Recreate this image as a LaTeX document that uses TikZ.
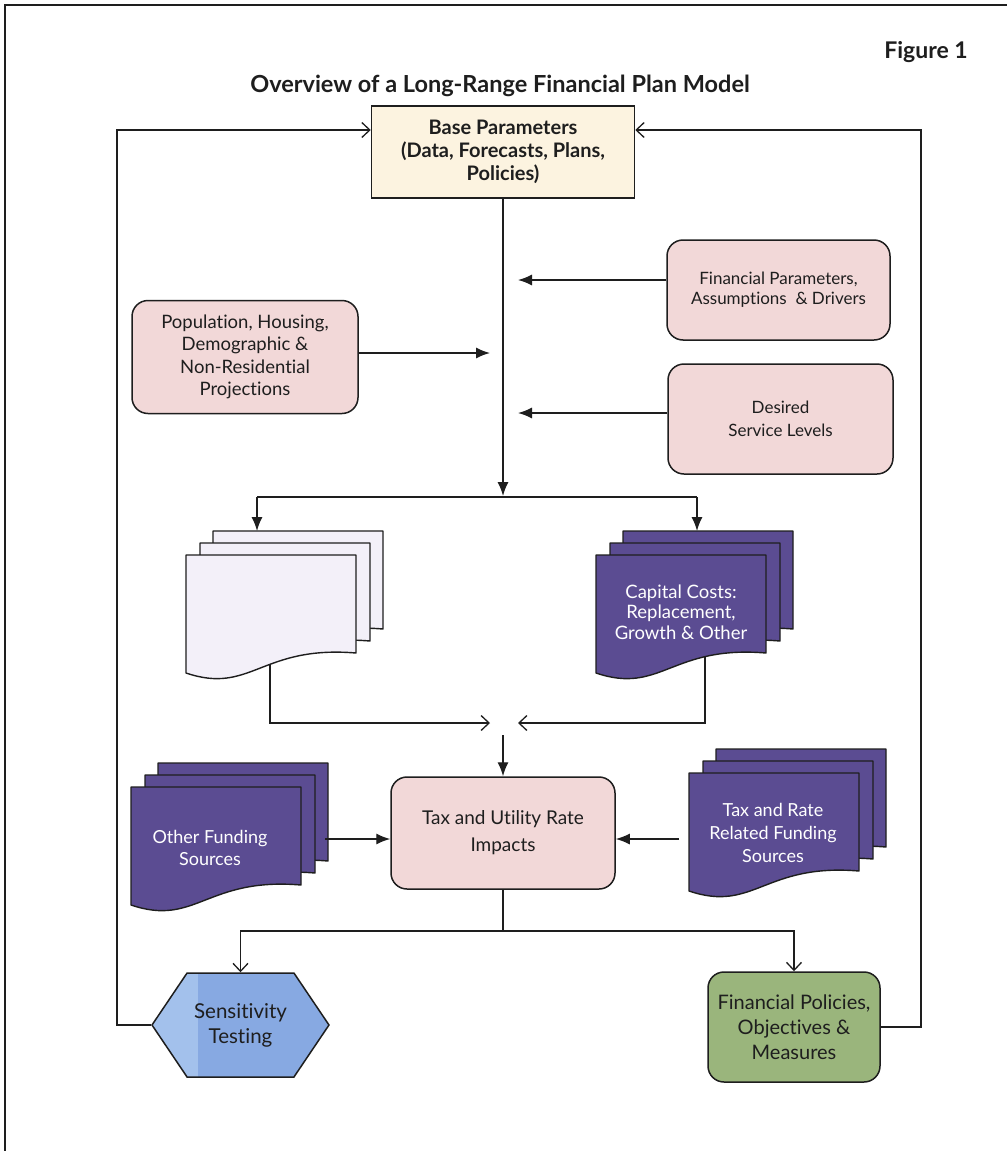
\documentclass[tikz,border=0pt]{standalone}
\usepackage{fontspec}
\setmainfont{Lato}[Ligatures={NoCommon}]
\usetikzlibrary{arrows.meta,shapes.symbols}
\definecolor{pinkbox}{HTML}{F2D8D8}
\definecolor{creambox}{HTML}{FCF3E0}
\definecolor{purpledoc}{HTML}{5B4C92}
\definecolor{lilacdoc}{HTML}{F3F0F9}
\definecolor{hexblue}{HTML}{87A9E2}
\definecolor{hexlight}{HTML}{A3C1EC}
\definecolor{greenbox}{HTML}{9AB57C}
\definecolor{ink}{HTML}{1E1E1E}
\tikzset{
  x=1pt, y=-1pt,
  pinkrnd/.style={draw=ink, fill=pinkbox, rounded corners=16pt, line width=1.5pt, align=center, text=ink, inner sep=0pt},
  docline/.style={draw=ink, line width=1.4pt, line join=round},
  doctext/.style={text=white, align=center, inner sep=0pt},
  flowarrow/.style={draw=ink, line width=1.4pt, -{Latex[length=14pt,width=11pt]}},
  barb/.style={draw=ink, line width=1.3pt, -{Straight Barb[length=8pt,width=15pt]}},
  plainline/.style={draw=ink, line width=1.4pt},
}
\newcommand\docat[3]{\begin{scope}[shift={(#1,#2)}]\filldraw[docline,#3] (0,0) -- (170,0) -- (170,98) .. controls (75,90) and (65,140) .. (0,118) -- cycle;\end{scope}}
\newcommand\docstack[3]{\docat{#1+27}{#2-24}{#3}\docat{#1+14}{#2-12}{#3}\docat{#1}{#2}{#3}}
\begin{document}
\begin{tikzpicture}
\useasboundingbox (0,0) rectangle (1007,1151);
\fill[white] (0,0) rectangle (1007,1151);
% frame
\draw[line width=1.8pt, ink] (5,1151) -- (5,5) -- (1007,5);

% titles
\node[font=\fontsize{23}{27}\selectfont\bfseries, text=ink] (fig) at (926,52) {Figure 1};
\node[font=\fontsize{23.5}{27}\selectfont\bfseries, text=ink] (title) at (500,86) {Overview of a Long-Range Financial Plan Model};

% boxes
\node[draw=ink, fill=creambox, line width=1.5pt, minimum width=263pt, minimum height=92pt, align=center, inner sep=0pt,
      font=\fontsize{20}{23}\selectfont\bfseries, text=ink] (base) at (503,152) {Base Parameters\\(Data, Forecasts, Plans,\\Policies)};
\node[pinkrnd, minimum width=223pt, minimum height=100pt, font=\fontsize{17}{20}\selectfont] (fin) at (778.5,290) {Financial Parameters,\\Assumptions \ \& Drivers};
\node[pinkrnd, minimum width=226pt, minimum height=113pt, font=\fontsize{18.5}{22.5}\selectfont] (pop) at (245,357) {Population, Housing,\\Demographic \&\\Non-Residential\\Projections};
\node[pinkrnd, minimum width=225pt, minimum height=110pt, font=\fontsize{17}{23}\selectfont] (des) at (780.5,419) {Desired\\Service Levels};

% document stacks
\docstack{186}{555}{fill=lilacdoc}
\coordinate (ops) at (271,604);
\docstack{596}{555}{fill=purpledoc}
\node[doctext, font=\fontsize{18.5}{20.5}\selectfont] (cap) at (681,612) {Capital Costs:\\Replacement,\\Growth \& Other};
\docstack{131}{787}{fill=purpledoc}
\node[doctext, font=\fontsize{18}{21.5}\selectfont] (ofs) at (210,848) {Other Funding\\Sources};
\docstack{689}{773}{fill=purpledoc}
\node[doctext, font=\fontsize{18}{23}\selectfont] (trf) at (773,833) {Tax and Rate\\Related Funding\\Sources};

\node[pinkrnd, minimum width=224pt, minimum height=112pt, font=\fontsize{19}{27}\selectfont] (tax) at (503,833) {Tax and Utility Rate\\Impacts};

\node[draw=ink, fill=hexblue, line width=1.5pt, shape=signal, signal to=west and east, signal pointer angle=112,
      minimum width=177pt, minimum height=104pt, inner sep=0pt, align=center, text=ink,
      font=\fontsize{20.5}{25}\selectfont,
      path picture={\fill[hexlight] (path picture bounding box.south west) rectangle ([xshift=46pt]path picture bounding box.north west);}] (hex) at (240.5,1025) {Sensitivity\\Testing};
\node[draw=ink, fill=greenbox, rounded corners=16pt, line width=1.5pt, minimum width=172pt, minimum height=110pt, inner sep=0pt,
      align=center, text=ink, font=\fontsize{20}{25}\selectfont] (green) at (794,1027) {Financial Policies,\\Objectives \&\\Measures};

% coordinates
\coordinate (split) at (503,496);
\coordinate (splitL) at (257,497);
\coordinate (splitR) at (697,497);
\coordinate (lsTop) at (257,531);
\coordinate (rsTop) at (697,531);
\coordinate (finA) at (518,280);
\coordinate (desA) at (518,413);
\coordinate (popA) at (490,353);
\coordinate (lsOut) at (270,664);
\coordinate (rsOut) at (705,656);
\coordinate (joinL) at (490,723);
\coordinate (joinR) at (518,723);
\coordinate (joinD) at (503,735);
\coordinate (ofOut) at (325,839);
\coordinate (trOut) at (679,839);
\coordinate (bsplit) at (503,931);
\coordinate (fbL) at (117,130);
\coordinate (fbR) at (921,130);

% connectors
\draw[flowarrow] (base.south) -- (split);
\draw[plainline] (splitL) -- (splitR);
\draw[flowarrow] (splitL) -- (lsTop);
\draw[flowarrow] (splitR) -- (rsTop);
\draw[flowarrow] (fin.west |- finA) -- (finA);
\draw[flowarrow] (des.west |- desA) -- (desA);
\draw[flowarrow] (pop.east |- popA) -- (popA);
\draw[barb] (lsOut) |- (joinL);
\draw[barb] (rsOut) |- (joinR);
\draw[flowarrow] (joinD) -- (tax.north);
\draw[flowarrow] (ofOut) -- (tax.west |- ofOut);
\draw[flowarrow] (trOut) -- (tax.east |- trOut);
\draw[plainline] (tax.south) -- (bsplit);
\draw[barb] (bsplit) -| (hex.north);
\draw[barb] (bsplit) -| (green.north);
\draw[barb] (hex.west) -- (hex.west -| fbL) -- (fbL) -- (base.west |- fbL);
\draw[barb] (green.east) -- (green.east -| fbR) -- (fbR) -- (base.east |- fbR);
\end{tikzpicture}
\end{document}
